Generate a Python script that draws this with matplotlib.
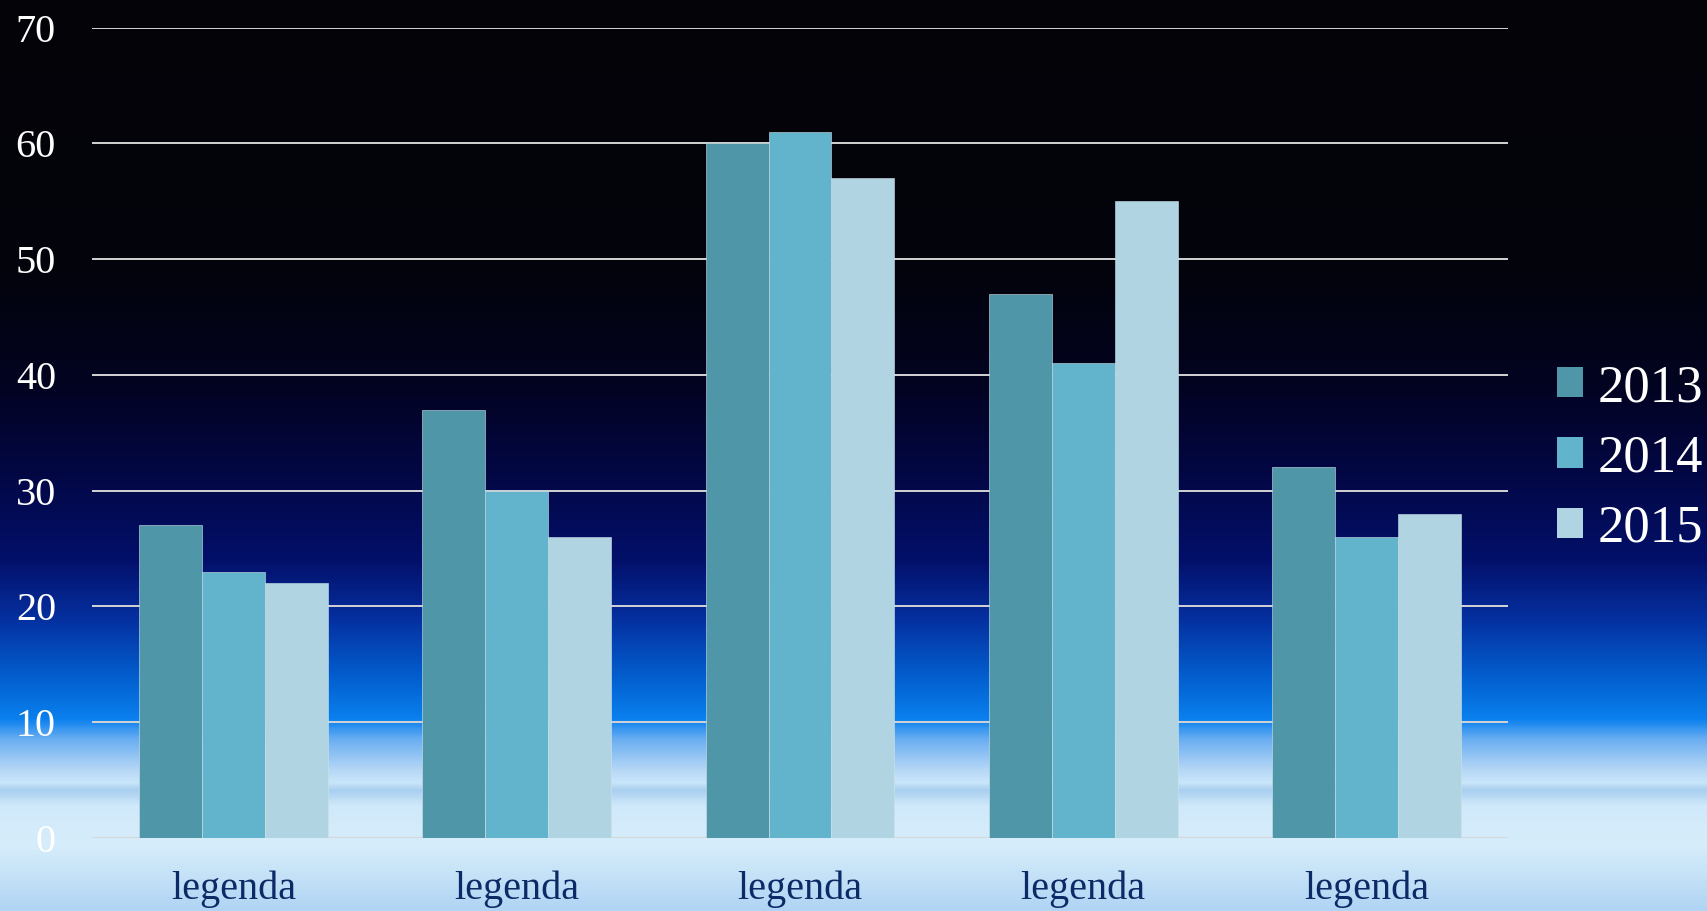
import matplotlib
matplotlib.use('Agg')
import matplotlib.pyplot as plt
import numpy as np
from matplotlib.colors import LinearSegmentedColormap
from matplotlib.patches import Patch

# 数据
categories = ['legenda', 'legenda', 'legenda', 'legenda', 'legenda']
series_names = ['2013', '2014', '2015']
values_2013 = [27, 37, 60, 47, 32]
values_2014 = [23, 30, 61, 41, 26]
values_2015 = [22, 26, 57, 55, 28]

bar_colors = ['#4f96a8', '#62b4cc', '#b0d4e2']
serif = ['Liberation Serif', 'DejaVu Serif']

fig = plt.figure(figsize=(17.07, 9.11), dpi=100)

# 背景渐变 (黑 -> 深蓝 -> 蓝 -> 天空白)
bg_stops = [
    (0.00, '#040408'),
    (0.30, '#03030c'),
    (0.42, '#020320'),
    (0.52, '#020744'),
    (0.615, '#03106a'),
    (0.68, '#0530a0'),
    (0.746, '#0360d0'),
    (0.79, '#0a80ee'),
    (0.812, '#6aaef2'),
    (0.845, '#b4d6f6'),
    (0.86, '#cae6fa'),
    (0.868, '#a8cef0'),
    (0.885, '#d0e9fa'),
    (0.93, '#d6edfa'),
    (1.00, '#b0d4f4'),
]
bg_cmap = LinearSegmentedColormap.from_list('sky', bg_stops, N=1024)
bg_ax = fig.add_axes([0, 0, 1, 1], zorder=-10)
grad = np.linspace(0, 1, 911).reshape(-1, 1)
bg_ax.imshow(grad, aspect='auto', cmap=bg_cmap, extent=[0, 1, 0, 1], origin='upper')
bg_ax.axis('off')

ax = fig.add_axes([0.0539, 0.0805, 0.8295, 0.8891])
ax.set_facecolor('none')

x = np.arange(len(categories))
width = 1 / 4.5
all_values = [values_2013, values_2014, values_2015]
for i, (name, vals) in enumerate(zip(series_names, all_values)):
    ax.bar(x + (i - 1) * width, vals, width, color=bar_colors[i], label=name,
           edgecolor='#cfe3ea', linewidth=0.4, zorder=3)

ax.set_xlim(-0.5, len(categories) - 0.5)
ax.set_ylim(0, 70)
ax.set_yticks(range(0, 71, 10))
ax.yaxis.grid(True, color='#d4d4d4', linewidth=1.4, zorder=0)
ax.set_axisbelow(True)
ax.axhline(0, color='#d8d8d8', linewidth=1.6, zorder=2)

for s in ax.spines.values():
    s.set_visible(False)
ax.tick_params(axis='both', length=0)
ax.tick_params(axis='y', pad=26, labelcolor='white', labelsize=29)
ax.tick_params(axis='x', pad=24, labelcolor='#0b2a66', labelsize=29)
ax.set_xticks(x)
ax.set_xticklabels(categories)
for lab in ax.get_xticklabels() + ax.get_yticklabels():
    lab.set_family(serif)

handles = [Patch(facecolor=c, edgecolor='none') for c in bar_colors]
leg = fig.legend(handles, series_names, loc='center left',
                 bbox_to_anchor=(0.912, 0.497), frameon=False,
                 prop={'family': serif, 'size': 38},
                 handlelength=0.5, handleheight=0.5, handletextpad=0.27,
                 labelspacing=0.42, borderpad=0, borderaxespad=0)
for t in leg.get_texts():
    t.set_color('white')

fig.savefig('out.png', dpi=100)
